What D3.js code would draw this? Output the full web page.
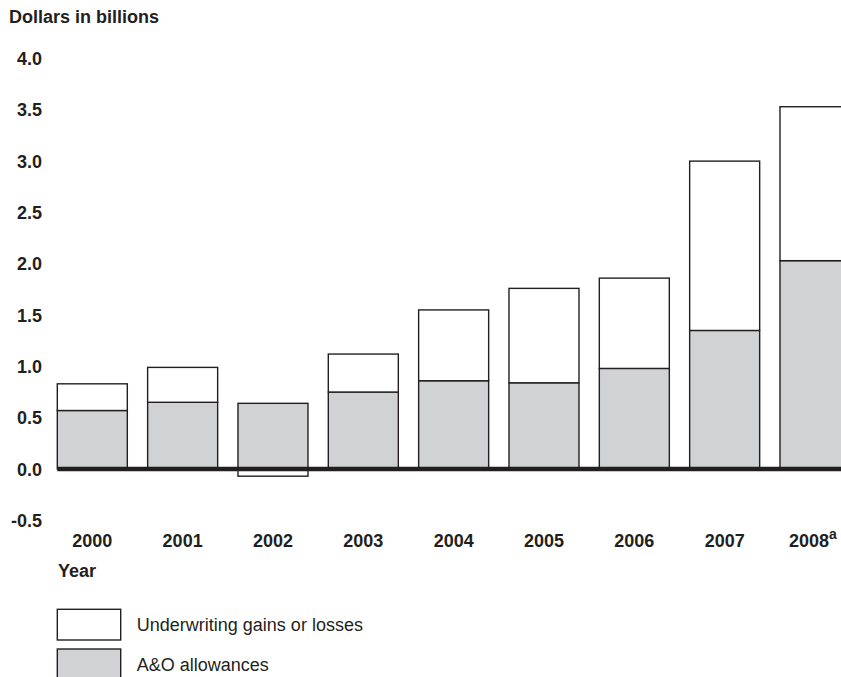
<!DOCTYPE html>
<html>
<head>
<meta charset="utf-8">
<script src="https://cdn.jsdelivr.net/npm/d3@7"></script>
<style>
  body { margin: 0; background: #fff; }
  svg { display: block; font-family: "Liberation Sans", Arial, sans-serif; }
</style>
</head>
<body>
<svg class="chart"></svg>
<script>
// data (dollars in billions)
const years = ["2000", "2001", "2002", "2003", "2004", "2005", "2006", "2007", "2008"];
const aoAllowances = [0.57, 0.65, 0.64, 0.75, 0.86, 0.84, 0.98, 1.35, 2.03];
const underwriting = [0.26, 0.34, -0.07, 0.37, 0.69, 0.92, 0.88, 1.65, 1.5];
const tickValues = [4.0, 3.5, 3.0, 2.5, 2.0, 1.5, 1.0, 0.5, 0.0, -0.5];
const legendLabels = ["Underwriting gains or losses", "A&O allowances"];

const ink = "#231f20";
const grey = "#d1d2d4";

const svg = d3.select(".chart").attr("width", 841).attr("height", 677);

const x = d3.scaleBand().domain(years).range([57.3, 850]).paddingInner(0.225).paddingOuter(0);
const y = d3.scaleLinear().domain([0, 4]).range([469, 58.5]);

// title
svg.append("text")
  .attr("x", 9).attr("y", 23)
  .attr("font-size", 18).attr("font-weight", "bold").attr("fill", ink)
  .text("Dollars in billions");

// y tick labels (plain hyphen for the minus, as in the original)
svg.selectAll(".ytick")
  .data(tickValues)
  .enter()
  .append("text")
  .attr("class", "ytick")
  .attr("x", 42)
  .attr("y", (d) => y(d) + 6.5)
  .attr("text-anchor", "end")
  .attr("font-size", 18).attr("font-weight", "bold").attr("fill", ink)
  .text((d) => d.toFixed(1));

const rows = years.map((yr, i) => ({ yr, ao: aoAllowances[i], uw: underwriting[i] }));

// A&O bars
svg.selectAll(".ao")
  .data(rows)
  .enter()
  .append("rect")
  .attr("class", "ao")
  .attr("x", (d) => x(d.yr))
  .attr("width", x.bandwidth())
  .attr("y", (d) => y(d.ao))
  .attr("height", (d) => y(0) - y(d.ao))
  .attr("fill", grey)
  .attr("stroke", ink)
  .attr("stroke-width", 1.4);

// underwriting bars (stacked on top, or below zero when negative)
svg.selectAll(".uw")
  .data(rows)
  .enter()
  .append("rect")
  .attr("class", "uw")
  .attr("x", (d) => x(d.yr))
  .attr("width", x.bandwidth())
  .attr("y", (d) => (d.uw >= 0 ? y(d.ao + d.uw) : y(0)))
  .attr("height", (d) => (d.uw >= 0 ? y(d.ao) - y(d.ao + d.uw) : y(d.uw) - y(0)))
  .attr("fill", "#fff")
  .attr("stroke", ink)
  .attr("stroke-width", 1.4);

// zero line
svg.append("line")
  .attr("x1", 57.3).attr("x2", 841)
  .attr("y1", y(0)).attr("y2", y(0))
  .attr("stroke", ink)
  .attr("stroke-width", 4.6);

// year labels
const yearLabels = svg.selectAll(".year")
  .data(years)
  .enter()
  .append("text")
  .attr("class", "year")
  .attr("x", (d) => x(d) + x.bandwidth() / 2)
  .attr("y", 547)
  .attr("text-anchor", "middle")
  .attr("font-size", 18).attr("font-weight", "bold").attr("fill", ink)
  .text((d) => d);

// last year gets a footnote mark and is shifted left so it fits
yearLabels.filter((d) => d === "2008")
  .attr("text-anchor", "start")
  .attr("x", (d) => x(d) + x.bandwidth() / 2 - 26)
  .append("tspan")
  .attr("dy", -8)
  .attr("font-size", 14)
  .text("a");

svg.append("text")
  .attr("x", 58).attr("y", 577)
  .attr("font-size", 18).attr("font-weight", "bold").attr("fill", ink)
  .text("Year");

// legend
const legend = svg.selectAll(".legend")
  .data(legendLabels)
  .enter()
  .append("g")
  .attr("class", "legend")
  .attr("transform", (d, i) => `translate(57.3, ${609.3 + i * 39.7})`);

legend.append("rect")
  .attr("width", 63.4)
  .attr("height", 30.7)
  .attr("fill", (d, i) => (i === 0 ? "#fff" : grey))
  .attr("stroke", ink)
  .attr("stroke-width", 1.4);

legend.append("text")
  .attr("x", 79.5)
  .attr("y", 22)
  .attr("font-size", 18).attr("fill", ink)
  .text((d) => d);
</script>
</body>
</html>
